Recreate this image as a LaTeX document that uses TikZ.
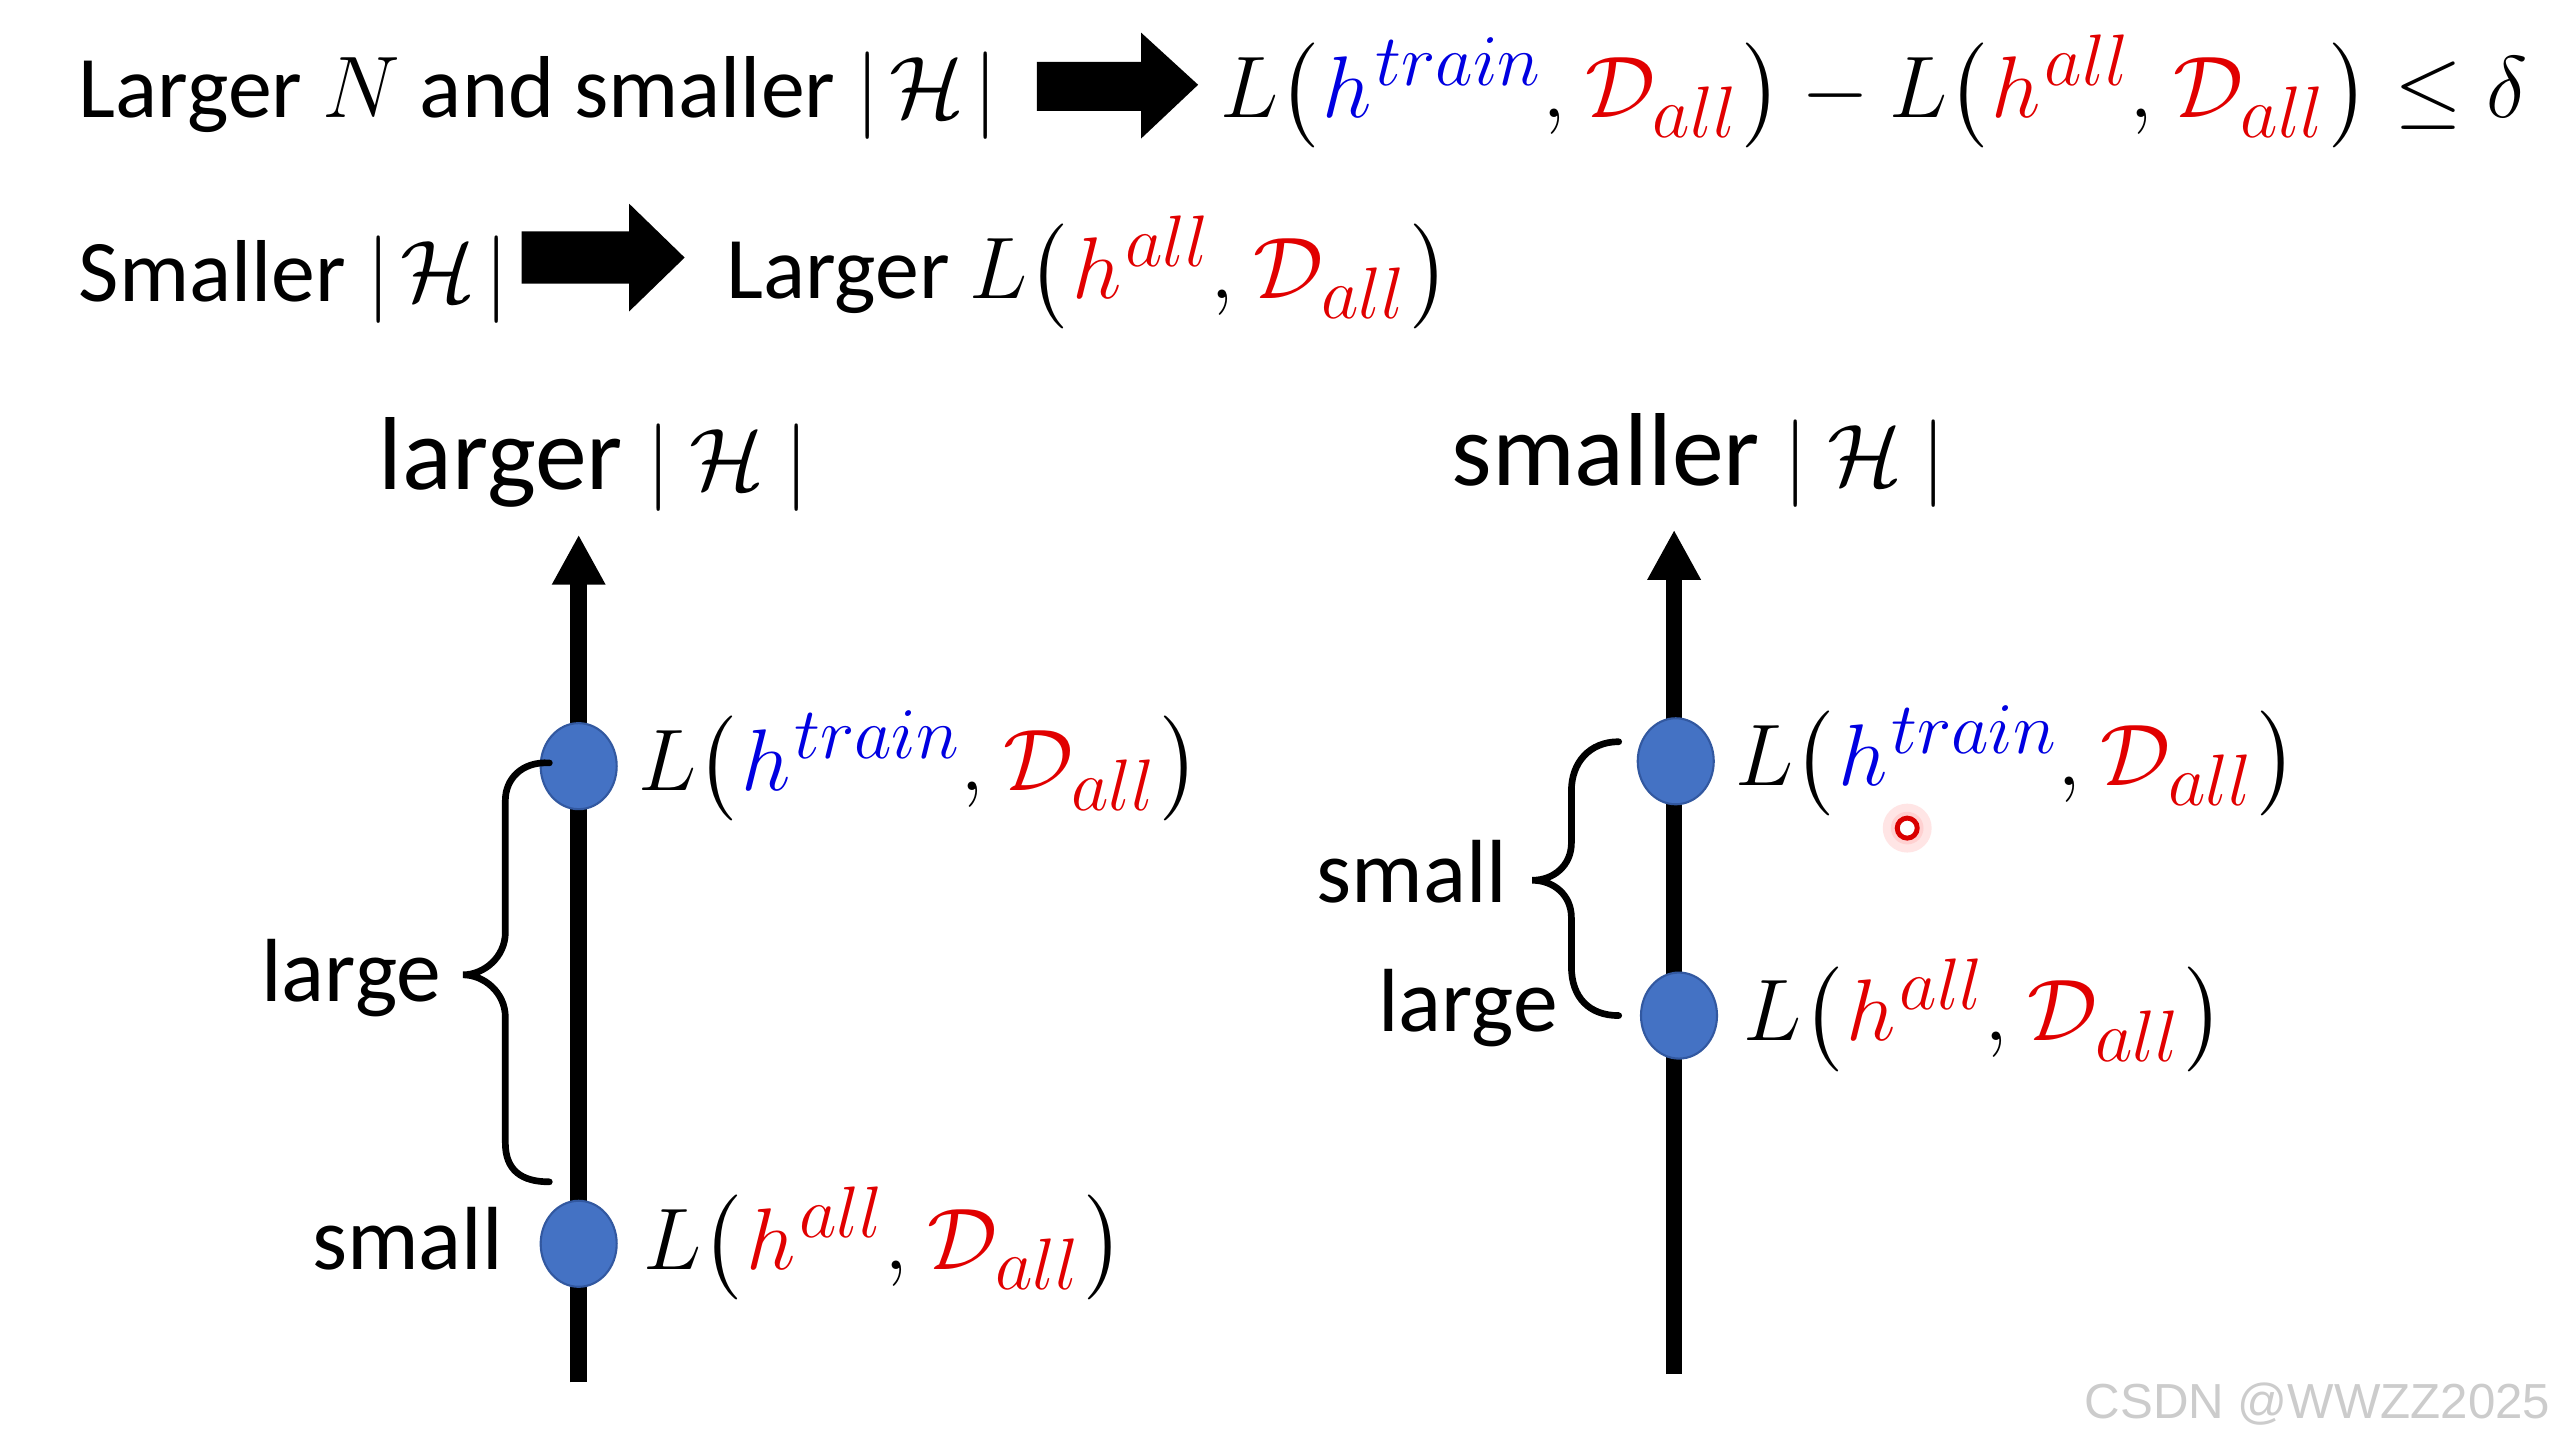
\documentclass[tikz,border=0pt]{standalone}
\usepackage{exscale}
\usepackage{fontspec}
\setmainfont{Carlito}
\newfontfamily\wmfont{Liberation Sans}
\usetikzlibrary{arrows.meta,shapes.geometric,calc}
\renewcommand{\defaultscriptratio}{.77}
\definecolor{hblue}{RGB}{0,0,225}
\definecolor{hred}{RGB}{225,0,0}
\definecolor{dotblue}{RGB}{68,114,196}
\definecolor{dotedge}{RGB}{50,88,160}
\newcommand{\hT}{\textcolor{hblue}{h^{\mkern1mu train}}}
\newcommand{\hA}{\textcolor{hred}{h^{\mkern1mu all}}}
\newcommand{\DA}{\textcolor{hred}{\mathcal{D}_{all}}}
\newcommand{\lpar}{\mathopen{\nulldelimiterspace=0pt\left(\vrule height 0.84em depth 0.36em width 0pt\right.}}
\newcommand{\rpar}{\mathclose{\nulldelimiterspace=0pt\left.\vrule height 0.84em depth 0.36em width 0pt\right)}}
\newcommand{\cm}{,\mkern1mu}
\begin{document}
\begin{tikzpicture}[x=0.0163cm,y=-0.0163cm,
  txt/.style={inner sep=0pt,font=\fontsize{25}{30}\selectfont},
  headtxt/.style={inner sep=0pt,font=\fontsize{29.5}{35}\selectfont},
  smalltxt/.style={inner sep=0pt,font=\fontsize{25.5}{30}\selectfont},
  dotnode/.style={ellipse,fill=dotblue,draw=dotedge,line width=0.6pt,minimum width=0.76cm,minimum height=0.86cm,inner sep=0pt},
  axis/.style={line width=4.7pt,-{Triangle[length=0.5cm,width=0.5cm]}},
  bracestyle/.style={line width=1.9pt,line cap=round},
  blockarrow/.style={fill=black}]
\useasboundingbox (0,0) rectangle (1568,886);
\fill[white] (0,0) rectangle (1568,886);

% line 1
\node[txt,anchor=base west] (t1) at (48,72) {Larger $N$ and smaller $|\mkern2mu\mathcal{H}\mkern2mu|$};
\fill[blockarrow] (636,38) -- (700,38) -- (700,20) -- (735,52) -- (700,85) -- (700,68) -- (636,68) -- cycle;
\node[txt,anchor=base west] (f1) at (748,72) {$L\lpar\hT\cm\DA\rpar-L\lpar\hA\cm\DA\rpar\leq\delta$};

% line 2
\node[txt,anchor=base west] (t2) at (48,185) {Smaller $|\mkern2mu\mathcal{H}\mkern2mu|$};
\fill[blockarrow] (320,142) -- (386,142) -- (386,125) -- (420,158) -- (386,191) -- (386,174) -- (320,174) -- cycle;
\node[txt,anchor=base west] (f2) at (445,183) {Larger $L\lpar\hA\cm\DA\rpar$};

% left panel
\node[headtxt,anchor=base west] (hl) at (232,300) {larger $|\mkern4mu\mathcal{H}\mkern4mu|$};
\coordinate (lb) at (355,848);
\coordinate (lt) at (355,328);
\draw[axis] (lb) -- (lt);
\node[dotnode] (l1) at (355,470) {};
\node[dotnode] (l2) at (355,763) {};
\node[txt,anchor=west,xshift=0.2cm] (l1t) at (l1.east) {$L\lpar\hT\cm\DA\rpar$};
\node[txt,anchor=west,xshift=0.25cm] (l2t) at (l2.east) {$L\lpar\hA\cm\DA\rpar$};
\coordinate (lbt) at (337,468);
\coordinate (lbb) at (337,725);
\coordinate (lbm) at (284,598);
\draw[bracestyle] (lbt) .. controls (320,467) and (310,478) .. (310,491)
  -- (310,572) .. controls (310,587) and (297,598) .. (lbm)
  .. controls (297,598) and (310,609) .. (310,624)
  -- (310,701) .. controls (310,718) and (320,725) .. (lbb);
\node[smalltxt,anchor=east] (llarge) at (271,600) {large};
\node[smalltxt,anchor=base east] (lsmall) at (309,779) {small};

% right panel
\node[headtxt,anchor=base west] (hr) at (890,298) {smaller $|\mkern4mu\mathcal{H}\mkern4mu|$};
\coordinate (rb) at (1027,843);
\coordinate (rt) at (1027,325);
\draw[axis] (rb) -- (rt);
\node[dotnode] (r1) at (1028,467) {};
\node[dotnode] (r2) at (1030,623) {};
\node[txt,anchor=west,xshift=0.2cm] (r1t) at (r1.east) {$L\lpar\hT\cm\DA\rpar$};
\node[txt,anchor=west,xshift=0.25cm] (r2t) at (r2.east) {$L\lpar\hA\cm\DA\rpar$};
\coordinate (rbt) at (993,455);
\coordinate (rbb) at (993,623);
\coordinate (rbm) at (940,540);
\draw[bracestyle] (rbt) .. controls (975,455) and (964,468) .. (964,485)
  -- (964,517) .. controls (964,531) and (953,540) .. (rbm)
  .. controls (953,540) and (964,549) .. (964,563)
  -- (964,593) .. controls (964,612) and (975,623) .. (rbb);
\node[smalltxt,anchor=east] (rsmall) at (925,535) {small};
\node[smalltxt,anchor=base east] (rlarge) at (956,633) {large};

% laser pointer mark
\fill[red!10] (1170,508) circle (15);
\fill[red!18] (1170,508) circle (10);
\node[circle,draw=red!85!black,line width=1.4pt,fill=white,minimum size=0.2cm,inner sep=0pt] (laser) at (1170,508) {};

% watermark
\node[inner sep=0pt,anchor=base east,text=black!20,font=\wmfont\fontsize{14}{17}\selectfont] (wm) at (1565,870) {CSDN @WWZZ2025};
\end{tikzpicture}
\end{document}
